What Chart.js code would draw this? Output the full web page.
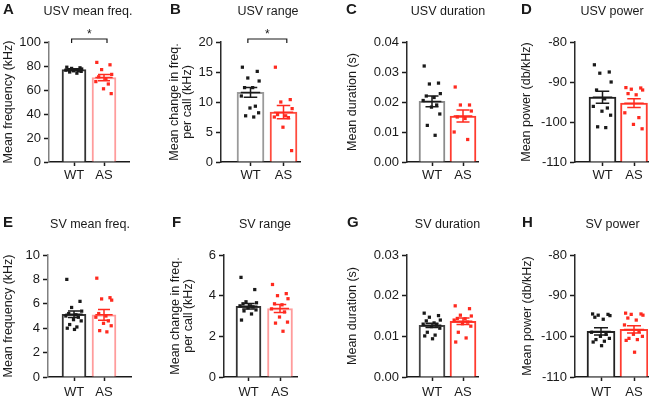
<!DOCTYPE html>
<html>
<head>
<meta charset="utf-8">
<script src="https://cdn.jsdelivr.net/npm/chart.js@4.4.1/dist/chart.umd.min.js"></script>
<style>
  body { margin: 0; background: #fff; }
  #fig { position: relative; width: 660px; height: 398px; }
  #fig canvas { position: absolute; }
</style>
</head>
<body>
<div id="fig">
  <canvas id="pA" width="165" height="199" style="left:0px;top:0px"></canvas>
  <canvas id="pB" width="165" height="199" style="left:165px;top:0px"></canvas>
  <canvas id="pC" width="165" height="199" style="left:330px;top:0px"></canvas>
  <canvas id="pD" width="165" height="199" style="left:495px;top:0px"></canvas>
  <canvas id="pE" width="165" height="199" style="left:0px;top:199px"></canvas>
  <canvas id="pF" width="165" height="199" style="left:165px;top:199px"></canvas>
  <canvas id="pG" width="165" height="199" style="left:330px;top:199px"></canvas>
  <canvas id="pH" width="165" height="199" style="left:495px;top:199px"></canvas>
</div>
<script>
const groups = ["WT", "AS"];

// A - USV mean freq. (kHz)
const usvFreqMean = [77, 70.4];
const usvFreqSem = [0.8, 2.6];
const usvFreqWT = [79, 78.5, 78, 77.5, 77, 77, 76.5, 76, 76, 75.5, 75, 74];
const usvFreqAS = [83, 81, 77, 73, 71, 69, 67, 65, 61, 57];

// B - USV range (kHz)
const usvRangeMean = [11.6, 8.3];
const usvRangeSem = [0.8, 1.1];
const usvRangeWT = [15.8, 15.1, 14.0, 13.5, 12.4, 12.4, 11.0, 9.3, 9.0, 8.2, 7.7, 7.5];
const usvRangeAS = [15.8, 10.4, 10.0, 8.9, 7.9, 7.7, 7.5, 7.4, 5.8, 1.9];

// C - USV duration (s)
const usvDurMean = [0.0202, 0.0153];
const usvDurSem = [0.0018, 0.002];
const usvDurWT = [0.032, 0.0263, 0.026, 0.0228, 0.022, 0.0215, 0.0205, 0.019, 0.0183, 0.016, 0.0122, 0.0089];
const usvDurAS = [0.025, 0.019, 0.019, 0.017, 0.015, 0.0145, 0.010, 0.0075];

// D - USV power (db/kHz)
const usvPowMean = [-93.8, -95.3];
const usvPowSem = [1.5, 1.1];
const usvPowWT = [-85.7, -87.5, -87.8, -90, -92, -94.2, -96.1, -96.5, -97.3, -98.3, -101.2, -101.4];
const usvPowAS = [-91.4, -91.5, -91.8, -92, -92.9, -93.2, -97.7, -98.9, -100.6, -101.7];

// E - SV mean freq. (kHz)
const svFreqMean = [5.14, 5.1];
const svFreqSem = [0.27, 0.44];
const svFreqWT = [8.0, 6.2, 5.7, 5.4, 5.2, 5.1, 5.0, 4.9, 4.7, 4.6, 4.3, 4.1, 4.0, 3.9];
const svFreqAS = [8.1, 6.5, 6.4, 6.3, 5.2, 5.0, 4.9, 4.6, 4.4, 4.2, 3.8, 3.7];

// F - SV range (kHz)
const svRangeMean = [3.48, 3.37];
const svRangeSem = [0.13, 0.2];
const svRangeWT = [4.9, 4.3, 3.7, 3.65, 3.6, 3.5, 3.5, 3.45, 3.4, 3.3, 3.25, 3.1, 2.8];
const svRangeAS = [4.55, 4.1, 4.0, 3.85, 3.6, 3.55, 3.35, 3.2, 2.95, 2.7, 2.65, 2.25];

// G - SV duration (s)
const svDurMean = [0.0127, 0.0137];
const svDurSem = [0.0005, 0.0008];
const svDurWT = [0.0157, 0.0151, 0.0147, 0.014, 0.0138, 0.0133, 0.013, 0.0128, 0.0124, 0.012, 0.011, 0.0103, 0.0101, 0.0094];
const svDurAS = [0.0175, 0.0168, 0.0152, 0.015, 0.0144, 0.0143, 0.014, 0.0135, 0.0131, 0.0125, 0.011, 0.0096, 0.0086];

// H - SV power (db/kHz)
const svPowMean = [-98.8, -98.3];
const svPowSem = [0.9, 0.9];
const svPowWT = [-94.5, -94.6, -94.8, -94.9, -95.3, -95.8, -99, -99.5, -100, -100.5, -100.8, -101.2, -101.4, -102.3];
const svPowAS = [-94.3, -94.5, -94.6, -94.8, -95.5, -96, -97.2, -98.8, -99.5, -100, -100.5, -100.8, -101, -103.9];

// scatter spread inside a bar, as fraction of bar width
const JITTER = [-0.3, 0.25, -0.1, 0.32, -0.22, 0.08, -0.34, 0.18, -0.02, 0.3, -0.18, 0.12, -0.28, 0.02];

const FONT = "'Liberation Sans', Arial, sans-serif";
const INK = "#1a1a1a";
const RED = "#ff2a1f";
const LIGHTRED = "#ff9c9c";

function panel(p) {
  const span = p.c1 - p.c0;
  const xMin = -(p.c0 - p.left) / span;
  const xMax = 1 + (p.right - p.c1) / span;
  const bw = p.barW / span;
  const pts = (vals, g) => vals.map((v, i) => ({ x: g + JITTER[i % JITTER.length] * bw, y: v }));
  const axisY = p.axisY || "#2a2a2a";

  const extras = {
    id: "extras",
    afterDatasetsDraw(chart) {
      const { ctx, scales: { x, y } } = chart;
      ctx.save();
      ctx.lineWidth = 1.5;
      p.mean.forEach((m, g) => {
        const cx = x.getPixelForValue(g);
        const ym = y.getPixelForValue(m);
        const yt = y.getPixelForValue(m + p.sem[g]);
        const yb = y.getPixelForValue(m - p.sem[g]);
        const hm = p.barW * 0.36, hc = p.barW * 0.25;
        ctx.strokeStyle = g ? RED : INK;
        ctx.beginPath();
        ctx.moveTo(cx, yt); ctx.lineTo(cx, yb);
        ctx.moveTo(cx - hm, ym); ctx.lineTo(cx + hm, ym);
        ctx.moveTo(cx - hc, yt); ctx.lineTo(cx + hc, yt);
        ctx.moveTo(cx - hc, yb); ctx.lineTo(cx + hc, yb);
        ctx.stroke();
      });
      if (p.sig) {
        const x0 = x.getPixelForValue(-0.08), x1 = x.getPixelForValue(1.1);
        const top = chart.chartArea.top - 3;
        ctx.strokeStyle = INK;
        ctx.lineWidth = 1.2;
        ctx.beginPath();
        ctx.moveTo(x0, top + 4); ctx.lineTo(x0, top); ctx.lineTo(x1, top); ctx.lineTo(x1, top + 4);
        ctx.stroke();
        ctx.fillStyle = INK;
        ctx.font = "12px " + FONT;
        ctx.textAlign = "center";
        ctx.textBaseline = "alphabetic";
        ctx.fillText("*", (x0 + x1) / 2, top - 1);
      }
      ctx.restore();
    },
    afterDraw(chart) {
      const ctx = chart.ctx;
      ctx.save();
      ctx.fillStyle = INK;
      ctx.textBaseline = "alphabetic";
      ctx.textAlign = "left";
      ctx.font = "bold 15px " + FONT;
      ctx.fillText(p.letter, p.letterX, p.textY);
      ctx.textAlign = "center";
      ctx.font = "12.5px " + FONT;
      ctx.fillText(p.title, p.titleX, p.textY + 1);
      ctx.restore();
    }
  };

  new Chart(document.getElementById(p.id), {
    type: "bar",
    data: {
      datasets: [
        { type: "scatter", data: pts(p.wt, 0), backgroundColor: INK, borderColor: INK,
          pointStyle: "rect", pointRadius: 2.3, borderWidth: 0, order: 1 },
        { type: "scatter", data: pts(p.as, 1), backgroundColor: RED, borderColor: RED,
          pointStyle: "rect", pointRadius: 2.3, borderWidth: 0, order: 1 },
        { data: [{ x: 0, y: p.mean[0] }, { x: 1, y: p.mean[1] }], base: p.base,
          backgroundColor: "#fff", borderColor: p.barColors, borderWidth: 2,
          barThickness: p.barW, order: 2 }
      ]
    },
    options: {
      responsive: false,
      animation: false,
      layout: { padding: { left: p.titleLeft, right: 165 - p.right, top: p.top, bottom: 199 - p.bottom - 20 } },
      plugins: { legend: { display: false }, tooltip: { enabled: false } },
      scales: {
        x: {
          type: "linear", min: xMin, max: xMax, offset: false,
          afterBuildTicks: ax => { ax.ticks = [{ value: 0 }, { value: 1 }]; },
          afterFit: ax => { ax.height = 20; },
          ticks: { callback: (v, i) => groups[i], color: INK, font: { family: FONT, size: 13 },
                   padding: p.xPad, maxRotation: 0, autoSkip: false },
          grid: { display: true, drawOnChartArea: false, offset: false, tickLength: 4, tickColor: INK, tickWidth: 1.5 },
          border: { color: INK, width: 1.5 }
        },
        y: {
          min: p.min, max: p.max,
          afterFit: ax => { ax.width = p.left - p.titleLeft; },
          ticks: { stepSize: p.step, callback: v => p.fmt ? v.toFixed(p.fmt) : v, color: INK,
                   font: { family: FONT, size: 13 }, padding: 3 },
          grid: { display: true, drawOnChartArea: false, tickLength: 5, tickColor: INK, tickWidth: 1.5 },
          border: { color: axisY, width: 1.5 },
          title: { display: true, text: p.yTitle, color: INK, padding: 0,
                   font: { family: FONT, size: 12.5, lineHeight: "12.5px" } }
        }
      }
    },
    plugins: [extras]
  });
}

const topRow = { top: 42, bottom: 162, textY: 14, xPad: 2 };
const botRow = { top: 56, bottom: 178, textY: 28, xPad: 4 };

panel({ ...topRow, id: "pA", letter: "A", letterX: 3, title: "USV mean freq.", titleX: 88,
  left: 49, right: 129, c0: 74, c1: 104, barW: 24, titleLeft: 2.25, axisY: "#808080",
  min: 0, max: 100, step: 20, yTitle: "Mean frequency (kHz)", sig: true,
  mean: usvFreqMean, sem: usvFreqSem, wt: usvFreqWT, as: usvFreqAS, barColors: ["#333", LIGHTRED] });

panel({ ...topRow, id: "pB", letter: "B", letterX: 5, title: "USV range", titleX: 103,
  left: 56, right: 135, c0: 85.5, c1: 118.5, barW: 27, titleLeft: 3.75,
  min: 0, max: 20, step: 5, yTitle: ["Mean change in freq.", "per call (kHz)"], sig: true,
  mean: usvRangeMean, sem: usvRangeSem, wt: usvRangeWT, as: usvRangeAS, barColors: ["#9a9a9a", "#ff4b3e"] });

panel({ ...topRow, id: "pC", letter: "C", letterX: 16, title: "USV duration", titleX: 118,
  left: 77, right: 148, c0: 102, c1: 133, barW: 26, titleLeft: 16.75,
  min: 0, max: 0.04, step: 0.01, fmt: 2, yTitle: "Mean duration (s)",
  mean: usvDurMean, sem: usvDurSem, wt: usvDurWT, as: usvDurAS, barColors: ["#8c8c8c", "#ff3b2f"] });

panel({ ...topRow, id: "pD", letter: "D", letterX: 26, title: "USV power", titleX: 117,
  left: 80, right: 153, c0: 107.5, c1: 139, barW: 27, titleLeft: 25.75, base: -110,
  min: -110, max: -80, step: 10, yTitle: "Mean power (db/kHz)",
  mean: usvPowMean, sem: usvPowSem, wt: usvPowWT, as: usvPowAS, barColors: ["#222", "#ff3b2f"] });

panel({ ...botRow, id: "pE", letter: "E", letterX: 3, title: "SV mean freq.", titleX: 90,
  left: 48, right: 131, c0: 74, c1: 104, barW: 24, titleLeft: 2.25, axisY: "#808080",
  min: 0, max: 10, step: 2, yTitle: "Mean frequency (kHz)",
  mean: svFreqMean, sem: svFreqSem, wt: svFreqWT, as: svFreqAS, barColors: ["#333", LIGHTRED] });

panel({ ...botRow, id: "pF", letter: "F", letterX: 7, title: "SV range", titleX: 100,
  left: 59, right: 132, c0: 83.5, c1: 115, barW: 25, titleLeft: 4.75,
  min: 0, max: 6, step: 2, yTitle: ["Mean change in freq.", "per call (kHz)"],
  mean: svRangeMean, sem: svRangeSem, wt: svRangeWT, as: svRangeAS, barColors: ["#333", LIGHTRED] });

panel({ ...botRow, id: "pG", letter: "G", letterX: 17, title: "SV duration", titleX: 117.5,
  left: 77, right: 148, c0: 102, c1: 133, barW: 26, titleLeft: 16.75,
  min: 0, max: 0.03, step: 0.01, fmt: 2, yTitle: "Mean duration (s)",
  mean: svDurMean, sem: svDurSem, wt: svDurWT, as: svDurAS, barColors: ["#444", "#ff3b2f"] });

panel({ ...botRow, id: "pH", letter: "H", letterX: 27, title: "SV power", titleX: 117.5,
  left: 80, right: 153, c0: 106, c1: 139, barW: 28, titleLeft: 26.75, base: -110,
  min: -110, max: -80, step: 10, yTitle: "Mean power (db/kHz)",
  mean: svPowMean, sem: svPowSem, wt: svPowWT, as: svPowAS, barColors: ["#222", "#ff3b2f"] });
</script>
</body>
</html>
